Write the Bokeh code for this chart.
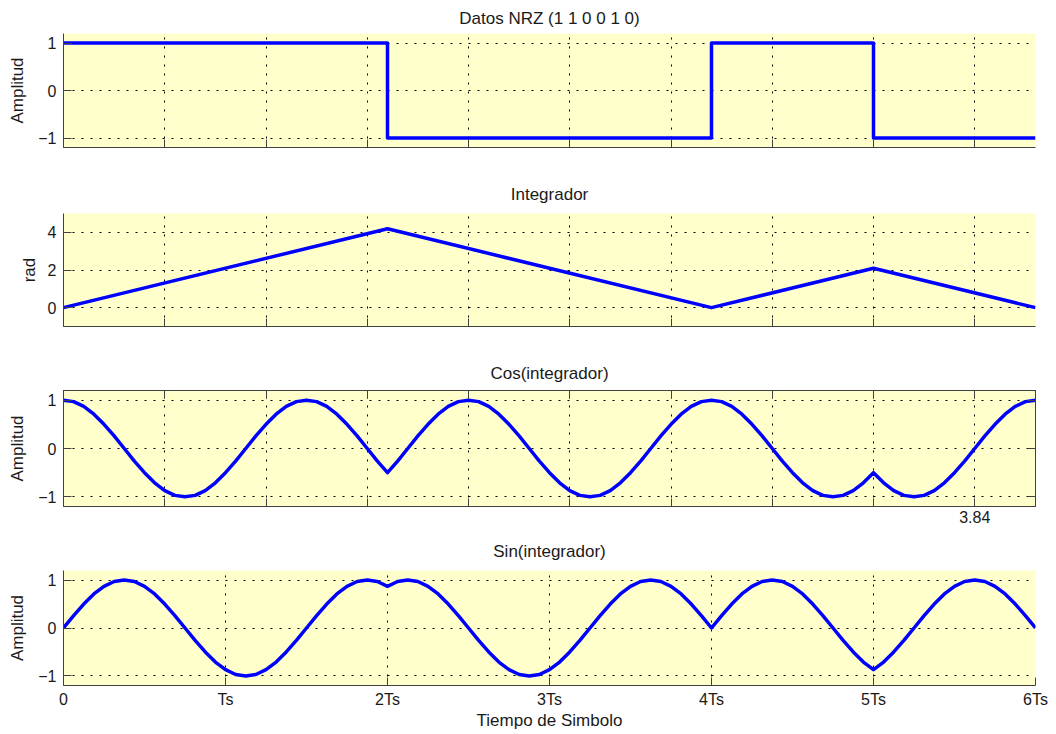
import numpy as np
from bokeh.plotting import figure
from bokeh.layouts import column
from bokeh.models import Range1d, FixedTicker, LinearAxis
from bokeh.embed import file_html
from bokeh.resources import INLINE

# ---------------- data ----------------
nrz_bits = [1, 1, 0, 0, 1, 0]
nrz_t = [0, 1, 2, 3, 4, 5, 6]
nrz_level = [1, 1, -1, -1, 1, -1, -1]

integ_t = [0, 2, 4, 5, 6]
integ_rad = [0, 4.19, 0, 2.09, 0]

wave_t = np.linspace(0, 6, 97)
cos_vals = [
    1, .97, .87, .71, .5, .26, 0, -.26, -.5, -.71, -.87, -.97, -1, -.97, -.87, -.71,
    -.5, -.26, 0, .26, .5, .71, .87, .97, 1, .97, .87, .71, .5, .26, 0, -.26, -.5,
    -.26, 0, .26, .5, .71, .87, .97, 1, .97, .87, .71, .5, .26, 0, -.26, -.5,
    -.71, -.87, -.97, -1, -.97, -.87, -.71, -.5, -.26, 0, .26, .5, .71, .87, .97, 1,
    .97, .87, .71, .5, .26, 0, -.26, -.5, -.71, -.87, -.97, -1, -.97, -.87, -.71, -.5,
    -.71, -.87, -.97, -1, -.97, -.87, -.71, -.5, -.26, 0, .26, .5, .71, .87, .97, 1,
]
sin_vals = [
    0, .26, .5, .71, .87, .97, 1, .97, .87, .71, .5, .26, 0, -.26, -.5, -.71,
    -.87, -.97, -1, -.97, -.87, -.71, -.5, -.26, 0, .26, .5, .71, .87, .97, 1, .97, .87,
    .97, 1, .97, .87, .71, .5, .26, 0, -.26, -.5, -.71, -.87, -.97, -1, -.97, -.87,
    -.71, -.5, -.26, 0, .26, .5, .71, .87, .97, 1, .97, .87, .71, .5, .26, 0,
    .26, .5, .71, .87, .97, 1, .97, .87, .71, .5, .26, 0, -.26, -.5, -.71, -.87,
    -.71, -.5, -.26, 0, .26, .5, .71, .87, .97, 1, .97, .87, .71, .5, .26, 0,
]

time_ticks = [0, 1, 2, 3, 4, 5, 6]
time_labels = ["0", "Ts", "2Ts", "3Ts", "4Ts", "5Ts", "6Ts"]
aux_ticks = [0, 0.625, 1.25, 1.875, 2.5, 3.125, 3.75, 4.375, 5.0, 5.625]
aux_tick_label = {5.625: "3.84"}

titles = ["Datos NRZ (1 1 0 0 1 0)", "Integrador", "Cos(integrador)", "Sin(integrador)"]
ylabels = ["Amplitud", "rad", "Amplitud", "Amplitud"]

# ---------------- styling ----------------
FONT = "Liberation Sans"
BG = "#FFFFCC"
AX = "#404040"
TXT = "#1a1a1a"
BLUE = "#0000FF"
LW = 3.5


def style_axis(ax, ticks, overrides, font_size="16px"):
    ax.ticker = FixedTicker(ticks=ticks)
    ax.major_label_overrides = overrides
    ax.axis_line_color = AX
    ax.major_tick_line_color = AX
    ax.major_tick_in = 8
    ax.major_tick_out = 0
    ax.minor_tick_line_color = None
    ax.major_label_text_font = FONT
    ax.major_label_text_font_size = font_size
    ax.major_label_text_color = TXT
    ax.axis_label_text_font = FONT
    ax.axis_label_text_font_size = "17px"
    ax.axis_label_text_font_style = "normal"
    ax.axis_label_text_color = TXT


def make_fig(idx, height, top, bottom, title_gap, yr, yticks, xticks, xover,
             ylabel_standoff, xlabel_gap=5, boxed=False, xlabel=None):
    p = figure(width=1050, height=height, output_backend="svg", toolbar_location=None,
               x_range=Range1d(0, 6), y_range=Range1d(*yr),
               min_border_left=63, min_border_right=15,
               min_border_top=top, min_border_bottom=bottom)
    p.background_fill_color = BG
    p.border_fill_color = "white"
    p.outline_line_color = AX if boxed else None
    p.title.text = titles[idx]
    p.title.align = "center"
    p.title.text_font = FONT
    p.title.text_font_size = "17px"
    p.title.text_font_style = "normal"
    p.title.text_color = TXT
    p.title.standoff = title_gap

    style_axis(p.xaxis[0], xticks, xover)
    p.xaxis.major_label_standoff = xlabel_gap
    style_axis(p.yaxis[0], yticks, {})
    p.yaxis.major_label_standoff = 7
    p.yaxis.axis_label = ylabels[idx]
    p.yaxis.axis_label_standoff = ylabel_standoff
    if xlabel:
        p.xaxis.axis_label = xlabel
        p.xaxis.axis_label_standoff = 0

    for g in (p.xgrid, p.ygrid):
        g.grid_line_color = "black"
        g.grid_line_dash = "2 7"
        g.grid_line_width = 1
    p.xgrid.ticker = FixedTicker(ticks=xticks)
    p.ygrid.ticker = FixedTicker(ticks=yticks)

    if boxed:
        ra = LinearAxis()
        style_axis(ra, yticks, {t: "" for t in yticks}, font_size="0px")
        ra.major_label_standoff = 0
        p.add_layout(ra, "right")
        ta = LinearAxis()
        style_axis(ta, xticks, {t: "" for t in xticks}, font_size="0px")
        ta.major_label_standoff = 0
        p.add_layout(ta, "above")
    return p


blank_aux = {t: "" for t in aux_ticks}
aux_with_label = dict(blank_aux)
aux_with_label.update(aux_tick_label)

f1 = make_fig(0, 172, 33, 25, 12, (-1.2, 1.2), [-1, 0, 1], aux_ticks, blank_aux, 8)
f1.step(nrz_t, nrz_level, mode="after", line_color=BLUE, line_width=LW, line_join="round")

f2 = make_fig(1, 182, 40, 28, 20, (-1, 5), [0, 2, 4], aux_ticks, blank_aux, 6)
f2.line(integ_t, integ_rad, line_color=BLUE, line_width=LW, line_join="round")

f3 = make_fig(2, 175, 35, 23, 15, (-1.2, 1.2), [-1, 0, 1], aux_ticks, aux_with_label, 8,
              xlabel_gap=4, boxed=True)
f3.line(wave_t, cos_vals, line_color=BLUE, line_width=LW, line_join="round")

time_over = {t: lab for t, lab in zip(time_ticks, time_labels)}
f4 = make_fig(3, 203, 40, 47, 20, (-1.2, 1.2), [-1, 0, 1], time_ticks, time_over, 8,
              xlabel="Tiempo de Simbolo")
f4.line(wave_t, sin_vals, line_color=BLUE, line_width=LW, line_join="round")

layout = column(f1, f2, f3, f4, spacing=0)
open("out.html", "w").write(file_html(layout, INLINE))
